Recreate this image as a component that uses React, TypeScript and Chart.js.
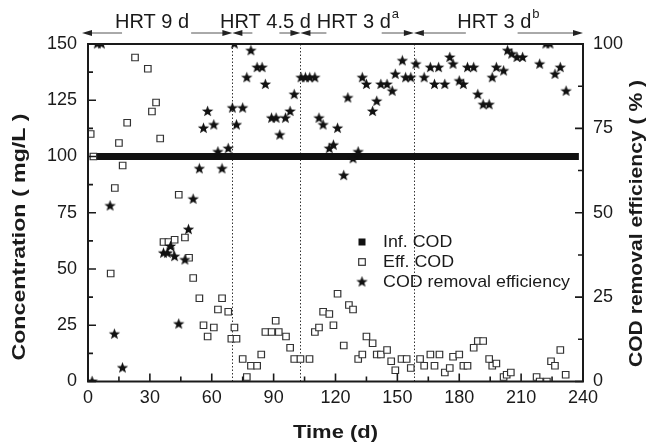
import React, { useEffect, useRef } from 'react';
import { Chart, registerables } from 'chart.js';

Chart.register(...registerables);

// ---- data ----
const infDays = [1, 30, 60, 90, 120, 150, 180, 210, 238];
const infCOD = [100, 100, 100, 100, 100, 100, 100, 100, 100];

const effDays = [
  1.3, 2.6, 11, 13, 15, 16.8, 19, 22.8, 29, 31, 33, 35, 36.6, 39, 40, 42, 44, 47, 49, 51,
  54, 56, 58, 61, 63, 65, 68, 69.5, 71, 72, 75, 77, 79, 82, 84, 86, 89, 91, 92.5, 96,
  98, 100, 103, 107.4, 110, 112, 114, 117, 119, 121, 124, 126.5, 128.5, 131, 133, 135, 138, 140, 142, 145,
  147, 149, 152, 154.5, 156.5, 161, 163, 166, 168, 170.4, 173, 175.4, 177, 180, 182, 184, 187, 189, 191.6, 194.5,
  196, 198, 201.5, 203, 205, 217.5, 219, 222.5, 224.5, 226.4, 229, 231.6,
];
const effCOD = [
  110, 100, 48, 86, 106, 96, 115, 144, 139, 120, 124, 108, 62, 62, 58, 63, 83, 64, 55, 46,
  37, 25, 20, 24, 32, 37, 31, 19, 24, 19, 10, 2, 7, 7, 12, 22, 22, 27, 22, 20,
  15, 10, 10, 10, 22, 24, 31, 30, 25, 39, 16, 34, 32, 10, 12, 20, 17, 12, 12, 14,
  9, 5, 10, 10, 6, 10, 7, 12, 7, 12, 4, 6, 11, 12, 7, 7, 15, 18, 18, 10,
  7, 8, 2, 3, 4, 2, 0, 0, 9, 7, 14, 3,
];

const remDays = [
  2, 4.5, 6.5, 10.7, 12.8, 16.7, 36.6, 38.5, 40, 42, 44, 47, 48.7, 51, 54, 56, 58, 61, 63, 65,
  68, 70, 71, 72, 75, 77, 79, 82, 84.4, 86, 89, 91.2, 93, 95.7, 98, 100, 103.3, 105.4, 107.5, 110,
  112, 114, 117, 119, 121, 124, 126, 128.5, 131, 133, 135, 138, 140, 142, 145, 147.5, 149, 152.4, 154, 156.5,
  159, 163, 166, 168, 170, 173, 175.4, 177, 180, 182, 184, 187, 189, 191.6, 194.5, 196, 198, 201.5, 203.4, 205.4,
  208, 210.7, 219, 222, 224, 226.4, 229, 231.8,
];
const remEff = [
  0, 100, 100, 52, 14, 4, 38, 38, 40, 37, 17, 36, 45, 54, 63, 75, 80, 76, 68, 63,
  69, 81, 100, 76, 81, 90, 98, 93, 93, 88, 78, 78, 73, 78, 80, 85, 90, 90, 90, 90,
  78, 76, 69, 70, 75, 61, 84, 66, 68, 90, 88, 80, 83, 88, 88, 86, 91, 95, 90, 90,
  94, 90, 93, 88, 93, 88, 96, 94, 89, 88, 93, 93, 85, 82, 82, 90, 93, 92, 98, 97,
  96, 96, 94, 100, 100, 91, 93, 86,
];

const xTickStep = 30;
const yTickStep = 25;
const y2TickStep = 25;
const phaseBoundaries = [70, 103, 158];
const phaseLabels = ['HRT 9 d', 'HRT 4.5 d', 'HRT 3 d', 'HRT 3 d'];
const phaseSups = ['', '', 'a', 'b'];
const legendLabels = ['Inf. COD', 'Eff. COD', 'COD removal efficiency'];
const xTitle = 'Time (d)';
const yTitle = 'Concentration ( mg/L )';
const y2Title = 'COD removal efficiency ( % )';

const FONT = '"Liberation Sans", Arial, Helvetica, sans-serif';
const INK = '#1a1a1a';

function makeStar(): HTMLCanvasElement {
  const c = document.createElement('canvas');
  c.width = 13;
  c.height = 13;
  const g = c.getContext('2d')!;
  const cx = 6.5, cy = 6.5, R = 6, r = 2.5;
  g.beginPath();
  for (let i = 0; i < 10; i++) {
    const ang = -Math.PI / 2 + (i * Math.PI) / 5;
    const rad = i % 2 === 0 ? R : r;
    const px = cx + rad * Math.cos(ang);
    const py = cy + rad * Math.sin(ang);
    if (i === 0) g.moveTo(px, py);
    else g.lineTo(px, py);
  }
  g.closePath();
  g.fillStyle = '#111';
  g.fill();
  return c;
}

function drawStretched(ctx: CanvasRenderingContext2D, text: string, x: number, y: number, targetW: number, align: 'left' | 'center') {
  const w = ctx.measureText(text).width;
  const s = targetW / w;
  ctx.save();
  ctx.translate(x, y);
  ctx.scale(s, 1);
  ctx.textAlign = align;
  ctx.fillText(text, 0, 0);
  ctx.restore();
}

function arrow(ctx: CanvasRenderingContext2D, x1: number, x2: number, y: number) {
  // line from x1 to tip x2
  const dir = x2 > x1 ? 1 : -1;
  ctx.save();
  ctx.strokeStyle = '#555';
  ctx.lineWidth = 1;
  ctx.beginPath();
  ctx.moveTo(x1, y);
  ctx.lineTo(x2 - dir * 6, y);
  ctx.stroke();
  ctx.fillStyle = '#222';
  ctx.beginPath();
  ctx.moveTo(x2, y);
  ctx.lineTo(x2 - dir * 10, y - 3);
  ctx.lineTo(x2 - dir * 10, y + 3);
  ctx.closePath();
  ctx.fill();
  ctx.restore();
}

export default function App() {
  const ref = useRef<HTMLCanvasElement | null>(null);

  useEffect(() => {
    if (!ref.current) return;
    const star = makeStar();

    const overlay = {
      id: 'overlay',
      beforeDatasetsDraw(chart: any) {
        const { ctx, chartArea: a, scales } = chart;
        ctx.save();
        ctx.strokeStyle = '#333';
        ctx.lineWidth = 1;
        ctx.setLineDash([1.5, 2]);
        for (const d of phaseBoundaries) {
          const px = Math.round(scales.x.getPixelForValue(d)) + 0.5;
          ctx.beginPath();
          ctx.moveTo(px, a.top);
          ctx.lineTo(px, a.bottom);
          ctx.stroke();
        }
        ctx.restore();
      },
      afterDraw(chart: any) {
        const { ctx, chartArea: a, scales } = chart;
        const xs = scales.x, ys = scales.y, y2s = scales.y2;
        ctx.save();
        // frame
        ctx.strokeStyle = INK;
        ctx.lineWidth = 2;
        ctx.strokeRect(a.left, a.top, a.right - a.left, a.bottom - a.top);
        // inward ticks
        ctx.lineWidth = 1.6;
        ctx.beginPath();
        for (let v = 0; v <= 240; v += xTickStep / 2) {
          const px = xs.getPixelForValue(v);
          const len = v % xTickStep === 0 ? 8 : 5;
          ctx.moveTo(px, a.bottom);
          ctx.lineTo(px, a.bottom - len);
        }
        for (let v = 0; v <= 150; v += yTickStep / 2) {
          const py = ys.getPixelForValue(v);
          const len = v % yTickStep === 0 ? 8 : 5;
          ctx.moveTo(a.left, py);
          ctx.lineTo(a.left + len, py);
        }
        for (let v = 0; v <= 100; v += y2TickStep / 2) {
          const py = y2s.getPixelForValue(v);
          const len = v % y2TickStep === 0 ? 8 : 5;
          ctx.moveTo(a.right, py);
          ctx.lineTo(a.right - len, py);
        }
        ctx.stroke();

        // phase arrows
        const ay = 33;
        const px = (d: number) => xs.getPixelForValue(d);
        const arrows: [number, number][] = [
          [16.5, -2.9], [50, 70], [79.7, 70], [92.8, 103], [115.6, 103], [142.4, 158], [183.2, 158], [208.3, 240],
        ];
        for (const [f, t] of arrows) arrow(ctx, px(f), px(t), ay);

        // phase labels
        const labelStarts = [13.1, 64, 110.9, 179];
        ctx.fillStyle = INK;
        ctx.textBaseline = 'alphabetic';
        phaseLabels.forEach((t, i) => {
          ctx.font = `20px ${FONT}`;
          ctx.textAlign = 'left';
          const x0 = px(labelStarts[i]);
          ctx.fillText(t, x0, 28);
          if (phaseSups[i]) {
            const w = ctx.measureText(t).width;
            ctx.font = `13px ${FONT}`;
            ctx.fillText(phaseSups[i], x0 + w + 1, 18);
          }
        });

        // axis titles
        ctx.font = `bold 18px ${FONT}`;
        ctx.textBaseline = 'middle';
        drawStretched(ctx, xTitle, (a.left + a.right) / 2, 433, 85, 'center');
        ctx.save();
        ctx.translate(20, 237);
        ctx.rotate(-Math.PI / 2);
        drawStretched(ctx, yTitle, 0, 0, 247, 'center');
        ctx.restore();
        ctx.save();
        ctx.translate(637, 223.5);
        ctx.rotate(-Math.PI / 2);
        drawStretched(ctx, y2Title, 0, 0, 287, 'center');
        ctx.restore();

        // legend
        const lx = 362, ly = [242, 262, 282], tx = 383;
        ctx.fillStyle = '#111';
        ctx.fillRect(lx - 3.5, ly[0] - 3.5, 7, 7);
        ctx.strokeStyle = '#333';
        ctx.lineWidth = 1.2;
        ctx.fillStyle = '#fff';
        ctx.fillRect(lx - 3.3, ly[1] - 3.3, 6.6, 6.6);
        ctx.strokeRect(lx - 3.3, ly[1] - 3.3, 6.6, 6.6);
        ctx.drawImage(star, lx - star.width / 2, ly[2] - star.height / 2);
        ctx.fillStyle = INK;
        ctx.font = `17px ${FONT}`;
        ctx.textBaseline = 'middle';
        const fullW = ctx.measureText(legendLabels[2]).width;
        const sx = 187 / fullW;
        legendLabels.forEach((t, i) => {
          const w = ctx.measureText(t).width;
          drawStretched(ctx, t, tx, ly[i] + 0.5, w * sx, 'left');
        });
        ctx.restore();
      },
    };

    const tickFont = { family: FONT, size: 18 };
    const chart = new Chart(ref.current, {
      type: 'scatter',
      data: {
        datasets: [
          {
            label: legendLabels[2],
            data: remDays.map((d, i) => ({ x: d, y: remEff[i] })),
            yAxisID: 'y2',
            pointStyle: star as any,
            pointRadius: 5,
            order: 0,
          },
          {
            label: legendLabels[1],
            data: effDays.map((d, i) => ({ x: d, y: effCOD[i] })),
            yAxisID: 'y',
            pointStyle: 'rect',
            pointRadius: 4.6,
            borderWidth: 1.2,
            borderColor: '#333',
            backgroundColor: '#fff',
            order: 1,
          },
          {
            label: legendLabels[0],
            data: infDays.map((d, i) => ({ x: d, y: infCOD[i] })),
            yAxisID: 'y',
            showLine: true,
            borderWidth: 7,
            borderColor: '#111',
            borderCapStyle: 'butt',
            pointRadius: 0,
            order: 2,
          } as any,
        ],
      },
      options: {
        animation: false,
        responsive: false,
        layout: { padding: { top: 44, left: 0, right: 0, bottom: 0 } },
        plugins: { legend: { display: false }, tooltip: { enabled: false } },
        scales: {
          x: {
            type: 'linear',
            position: 'bottom',
            min: 0,
            max: 240,
            ticks: { stepSize: xTickStep, font: tickFont, color: INK, padding: 6, maxRotation: 0, autoSkip: false },
            grid: { display: false, drawTicks: false },
            border: { display: false },
            afterFit: (s: any) => { s.height = 63.5; },
          },
          y: {
            type: 'linear',
            position: 'left',
            min: 0,
            max: 150,
            ticks: { stepSize: yTickStep, font: tickFont, color: INK, padding: 11 },
            grid: { display: false, drawTicks: false },
            border: { display: false },
            afterFit: (s: any) => { s.width = 88; },
          },
          y2: {
            type: 'linear',
            position: 'right',
            min: 0,
            max: 100,
            ticks: { stepSize: y2TickStep, font: tickFont, color: INK, padding: 10 },
            grid: { display: false, drawTicks: false },
            border: { display: false },
            afterFit: (s: any) => { s.width = 71; },
          },
        },
      },
      plugins: [overlay],
    });
    return () => chart.destroy();
  }, []);

  return (
    <div style={{ position: 'fixed', left: 0, top: 0, width: 654, height: 445, background: '#fff' }}>
      <canvas ref={ref} width={654} height={445} />
    </div>
  );
}
